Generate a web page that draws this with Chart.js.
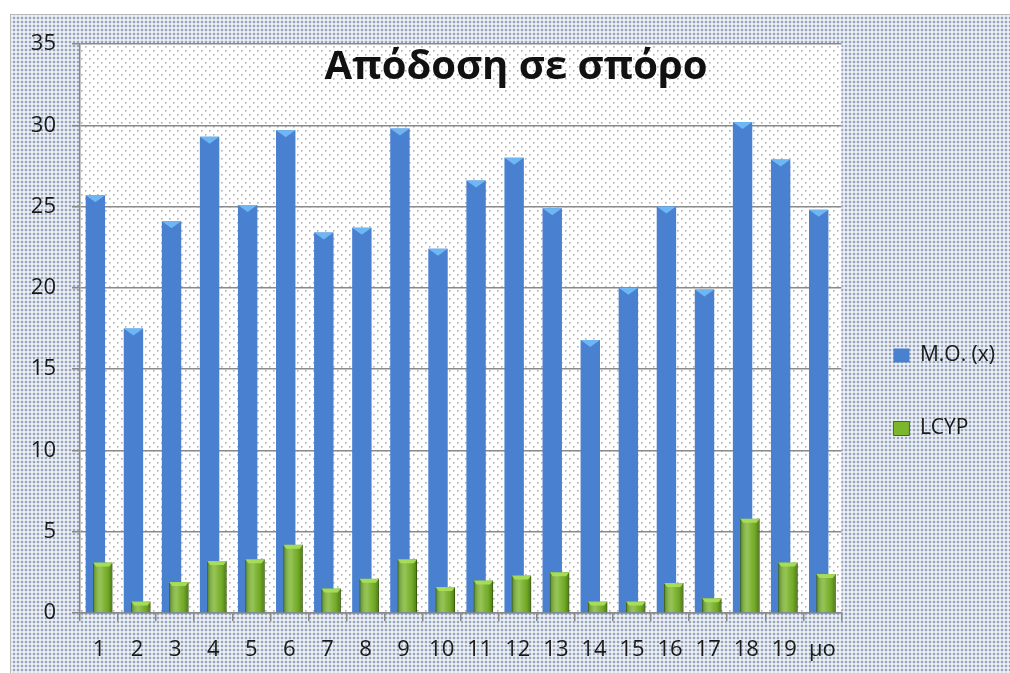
<!DOCTYPE html>
<html>
<head>
<meta charset="utf-8">
<title>Απόδοση σε σπόρο</title>
<script src="https://cdn.jsdelivr.net/npm/chart.js@4"></script>
<style>
    body { margin: 0; background: #fff; }
    #wrap { width: 1010px; height: 673px; }
</style>
</head>
<body>
<div id="wrap"><canvas id="seedChart" width="1010" height="673"></canvas></div>
<script>
// Data
const categories = ['1', '2', '3', '4', '5', '6', '7', '8', '9', '10',
    '11', '12', '13', '14', '15', '16', '17', '18', '19', 'μο'];
const moValues = [25.7, 17.5, 24.1, 29.3, 25.1, 29.7, 23.4, 23.7, 29.8, 22.4,
    26.6, 28.0, 24.9, 16.8, 20.0, 25.0, 19.9, 30.2, 27.9, 24.8];
const lcypValues = [3.1, 0.7, 1.9, 3.2, 3.3, 4.2, 1.5, 2.1, 3.3, 1.6,
    2.0, 2.3, 2.5, 0.7, 0.7, 1.85, 0.9, 5.8, 3.1, 2.4];
const yTicks = [0, 5, 10, 15, 20, 25, 30, 35];
const seriesNames = ['M.O. (x)', 'LCYP'];
const chartTitle = 'Απόδοση σε σπόρο';

const FONT = "'Open Sans', 'Noto Sans', sans-serif";
const TEXT = '#1a1a1a';
const GRID = '#8a8a8a';

// small dotted tiles for the backgrounds
function makePattern(size, dots, color, dot, halo) {
    const c = document.createElement('canvas');
    c.width = size;
    c.height = size;
    const g = c.getContext('2d');
    g.fillStyle = '#ffffff';
    g.fillRect(0, 0, size, size);
    dots.forEach(d => {
        if (halo) {
            g.fillStyle = halo;
            g.fillRect(d[0] - 0.5, d[1] - 0.5, dot + 1, dot + 1);
        }
        g.fillStyle = color;
        g.fillRect(d[0], d[1], dot, dot);
    });
    return document.getElementById('seedChart').getContext('2d').createPattern(c, 'repeat');
}

const outerPattern = makePattern(4, [[1, 1]], '#97a6bd', 2, '#bcc6d6');
const plotPattern = makePattern(8, [[1, 2], [5, 6]], '#b0b0b0', 1.6);

const backgroundPlugin = {
    id: 'background',
    beforeDraw(chart) {
        const ctx = chart.ctx;
        const a = chart.chartArea;
        ctx.save();
        ctx.fillStyle = '#ffffff';
        ctx.fillRect(0, 0, chart.width, chart.height);
        ctx.fillStyle = outerPattern;
        ctx.fillRect(10, 14, chart.width - 10, chart.height - 14);
        ctx.strokeStyle = '#b9b9b9';
        ctx.lineWidth = 1;
        ctx.beginPath();
        ctx.moveTo(10.5, chart.height);
        ctx.lineTo(10.5, 14.5);
        ctx.lineTo(chart.width, 14.5);
        ctx.stroke();
        ctx.fillStyle = plotPattern;
        ctx.fillRect(a.left, a.top, a.right - a.left, a.bottom - a.top);
        ctx.restore();
    }
};

// green bars sit in front of the blue ones, with a bit of shading
const barLookPlugin = {
    id: 'barLook',
    beforeDatasetDraw(chart, args) {
        if (args.index === 1) return false;
    },
    afterDatasetsDraw(chart) {
        const ctx = chart.ctx;
        const blue = chart.getDatasetMeta(0);
        ctx.save();
        blue.data.forEach(el => {
            const p = el.getProps(['x', 'y', 'width'], true);
            ctx.fillStyle = 'rgba(110, 185, 245, 0.95)';
            ctx.beginPath();
            ctx.moveTo(p.x - p.width / 2, p.y);
            ctx.lineTo(p.x + p.width / 2, p.y);
            ctx.lineTo(p.x, p.y + 7);
            ctx.closePath();
            ctx.fill();
        });
        ctx.restore();

        const green = chart.getDatasetMeta(1);
        green.controller.draw();
        ctx.save();
        green.data.forEach(el => {
            const p = el.getProps(['x', 'y', 'width', 'base'], true);
            const left = p.x - p.width / 2;
            const grad = ctx.createLinearGradient(left, 0, left + p.width, 0);
            grad.addColorStop(0, 'rgba(50, 90, 10, 0.55)');
            grad.addColorStop(0.4, 'rgba(255, 255, 255, 0.18)');
            grad.addColorStop(0.75, 'rgba(60, 100, 10, 0.15)');
            grad.addColorStop(1, 'rgba(40, 70, 5, 0.6)');
            ctx.fillStyle = grad;
            ctx.fillRect(left, p.y, p.width, p.base - p.y);
            ctx.fillStyle = 'rgba(170, 225, 90, 0.9)';
            ctx.beginPath();
            ctx.moveTo(left, p.y);
            ctx.lineTo(left + p.width, p.y);
            ctx.lineTo(left + p.width - 3, p.y + 4);
            ctx.lineTo(left + 3, p.y + 4);
            ctx.closePath();
            ctx.fill();
        });
        ctx.restore();
    }
};

const titlePlugin = {
    id: 'insideTitle',
    afterDraw(chart) {
        const ctx = chart.ctx;
        ctx.save();
        ctx.font = 'bold 40px ' + FONT;
        ctx.fillStyle = '#111111';
        ctx.textAlign = 'center';
        ctx.textBaseline = 'alphabetic';
        ctx.fillText(chartTitle, 516, 79);
        ctx.restore();
    }
};

Chart.defaults.font.family = FONT;

const ctx = document.getElementById('seedChart').getContext('2d');
new Chart(ctx, {
    type: 'bar',
    data: {
        labels: categories,
        datasets: [{
            label: seriesNames[0],
            data: moValues,
            backgroundColor: '#4a80d0',
            borderWidth: 0,
            categoryPercentage: 0.385,
            barPercentage: 2.65
        }, {
            label: seriesNames[1],
            data: lcypValues,
            backgroundColor: '#7cb62c',
            borderColor: '#44700f',
            borderWidth: 1,
            categoryPercentage: 0.385,
            barPercentage: 2.65
        }]
    },
    options: {
        responsive: false,
        animation: false,
        devicePixelRatio: 1,
        layout: { padding: { top: 44, right: 5, left: 0, bottom: 0 } },
        plugins: {
            legend: {
                position: 'right',
                align: 'center',
                title: {
                    display: true,
                    text: '',
                    font: { size: 12 },
                    padding: { top: 0, bottom: 52.6 }
                },
                labels: {
                    boxWidth: 16,
                    boxHeight: 14,
                    padding: 52,
                    color: TEXT,
                    font: { size: 21 }
                }
            },
            tooltip: { enabled: false }
        },
        scales: {
            x: {
                ticks: { color: TEXT, font: { size: 22 }, padding: 16, maxRotation: 0, autoSkip: false },
                grid: {
                    drawOnChartArea: false,
                    offset: true,
                    tickLength: 8,
                    color: GRID,
                    lineWidth: 1.5
                },
                border: { color: GRID, width: 1.5 },
                afterFit: s => { s.height = 60; }
            },
            y: {
                min: 0,
                max: 35,
                afterBuildTicks: s => { s.ticks = yTicks.map(v => ({ value: v })); },
                ticks: { color: TEXT, font: { size: 22 }, padding: 16 },
                grid: { color: GRID, lineWidth: 1.5, tickLength: 8 },
                border: { color: GRID, width: 1.5 },
                afterFit: s => { s.width = 80; }
            }
        }
    },
    plugins: [backgroundPlugin, barLookPlugin, titlePlugin]
});
</script>
</body>
</html>
